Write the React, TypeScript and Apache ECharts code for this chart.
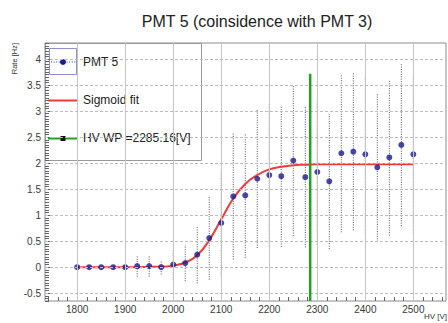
import React, { useEffect, useRef } from "react";
import * as echarts from "echarts";

// High-voltage scan points [V]
const hv = [
  1800, 1825, 1850, 1875, 1900, 1925, 1950, 1975, 2000, 2025, 2050, 2075, 2100, 2125, 2150,
  2175, 2200, 2225, 2250, 2275, 2300, 2325, 2350, 2375, 2400, 2425, 2450, 2475, 2500,
];
// Coincidence rate [Hz]
const rate = [
  0, 0, 0, 0, 0, 0.02, 0.02, 0.0, 0.05, 0.08, 0.24, 0.56, 0.85, 1.36, 1.38,
  1.7, 1.77, 1.75, 2.05, 1.73, 1.83, 1.65, 2.19, 2.22, 2.17, 1.92, 2.11, 2.35, 2.17,
];
// Symmetric rate uncertainty [Hz]
const rateErr = [
  0, 0, 0, 0, 0, 0.2, 0.2, 0.14, 0.3, 0.35, 0.55, 0.8, 1.0, 1.21, 1.2,
  1.33, 1.37, 1.36, 1.45, 1.35, 1.39, 1.3, 1.52, 1.51, 1.52, 1.43, 1.5, 1.56, 1.52,
];
// Sigmoid fit evaluated at the scan points
const fitRate = [
  0, 0, 0, 0, 0, 0, 0.01, 0.01, 0.03, 0.09, 0.23, 0.52, 0.92, 1.32, 1.6,
  1.77, 1.88, 1.93, 1.96, 1.97, 1.98, 1.98, 1.98, 1.98, 1.98, 1.98, 1.98, 1.98, 1.98,
];

const hvWorkingPoint = 2285.16;
const wpLineTop = 3.72;

const xMajorTicks = [1800, 1900, 2000, 2100, 2200, 2300, 2400, 2500];
const yMajorTicks = [-0.5, 0, 0.5, 1, 1.5, 2, 2.5, 3, 3.5, 4];
const xMin = 1733;
const xMax = 2568;
const yMin = -0.65;
const yMax = 4.31;
const xMinorStep = 20;
const yMinorStep = 0.05;

const FONT = "'Liberation Sans', Arial, Helvetica, sans-serif";

function minorTicks(lo: number, hi: number, step: number): number[] {
  const out: number[] = [];
  const start = Math.ceil(lo / step - 1e-9);
  const end = Math.floor(hi / step + 1e-9);
  for (let k = start; k <= end; k++) out.push(Math.round(k * step * 1000) / 1000);
  return out;
}

export default function App() {
  const ref = useRef<HTMLDivElement>(null);

  useEffect(() => {
    document.body.style.margin = "0";
    if (!ref.current) return;
    const chart = echarts.init(ref.current, undefined, { renderer: "svg" });

    const xMinor = minorTicks(xMin, xMax, xMinorStep);
    const yMinor = minorTicks(yMin, yMax, yMinorStep);

    const points = hv.map((h, i) => [h, rate[i]]);
    const bars = hv.map((h, i) => [h, rate[i] - rateErr[i], rate[i] + rateErr[i]]);
    const fit = hv.map((h, i) => [h, fitRate[i]]);

    const tickLine = { color: "#666", width: 1 };
    const plain = (v: number) => String(v);

    const option: any = {
      animation: false,
      grid: {
        left: 45,
        top: 43,
        right: 2,
        bottom: 22,
        show: true,
        borderColor: "#8c8c8c",
        borderWidth: 1,
        backgroundColor: "#fff",
      },
      xAxis: [
        {
          type: "value",
          min: xMin,
          max: xMax,
          position: "bottom",
          axisLine: { show: false, onZero: false },
          splitLine: { show: false },
          axisTick: { show: true, inside: true, length: 8, customValues: xMajorTicks, lineStyle: tickLine },
          axisLabel: {
            customValues: xMajorTicks,
            formatter: plain,
            color: "#3a3a3a",
            fontSize: 10,
            fontFamily: FONT,
            margin: 3,
          },
        },
        {
          type: "value",
          min: xMin,
          max: xMax,
          position: "bottom",
          axisLine: { show: false, onZero: false },
          splitLine: { show: false },
          axisLabel: { show: false },
          axisTick: { show: true, inside: true, length: 4, customValues: xMinor, lineStyle: tickLine },
        },
      ],
      yAxis: [
        {
          type: "value",
          min: yMin,
          max: yMax,
          position: "left",
          axisLine: { show: false, onZero: false },
          splitLine: { show: false },
          axisTick: { show: true, inside: true, length: 8, customValues: yMajorTicks, lineStyle: tickLine },
          axisLabel: {
            customValues: yMajorTicks,
            formatter: plain,
            color: "#3a3a3a",
            fontSize: 10,
            fontFamily: FONT,
            margin: 4,
          },
        },
        {
          type: "value",
          min: yMin,
          max: yMax,
          position: "left",
          axisLine: { show: false, onZero: false },
          splitLine: { show: false },
          axisLabel: { show: false },
          axisTick: { show: true, inside: true, length: 4, customValues: yMinor, lineStyle: tickLine },
        },
      ],
      series: [
        {
          // grid lines at the labelled ticks
          type: "line",
          data: [],
          z: 1,
          silent: true,
          markLine: {
            silent: true,
            symbol: "none",
            label: { show: false },
            animation: false,
            data: [
              ...xMajorTicks.map((v) => ({
                xAxis: v,
                lineStyle: { color: "#c4c4c4", width: 1, type: "solid" },
              })),
              ...yMajorTicks.map((v) => ({
                yAxis: v,
                lineStyle: { color: "#bdbdbd", width: 1, type: [3, 2] },
              })),
            ],
          },
        },
        {
          name: "errors",
          type: "custom",
          z: 2,
          silent: true,
          clip: true,
          data: bars,
          encode: { x: 0, y: [1, 2] },
          renderItem: (_params: any, api: any) => {
            const lo = api.value(1);
            const hi = api.value(2);
            if (hi - lo <= 0) return null;
            const p1 = api.coord([api.value(0), lo]);
            const p2 = api.coord([api.value(0), hi]);
            return {
              type: "line",
              shape: { x1: p1[0], y1: p1[1], x2: p2[0], y2: p2[1] },
              style: { stroke: "#50506a", lineWidth: 1, lineDash: [1, 1.4] },
            };
          },
        },
        {
          name: "Sigmoid fit",
          type: "line",
          z: 3,
          data: fit,
          smooth: 0.5,
          symbol: "none",
          lineStyle: { color: "#ee3b3b", width: 2 },
        },
        {
          name: "PMT 5",
          type: "scatter",
          z: 4,
          data: points,
          symbol: "circle",
          symbolSize: 6,
          itemStyle: { color: "#1b1b8c" },
        },
        {
          name: "HV WP",
          type: "line",
          z: 5,
          data: [
            [hvWorkingPoint, yMin],
            [hvWorkingPoint, wpLineTop],
          ],
          symbol: "none",
          lineStyle: { color: "#21a321", width: 2.5 },
        },
      ],
      graphic: [
        {
          type: "text",
          x: 257,
          y: 21,
          style: {
            text: "PMT 5 (coinsidence with PMT 3)",
            font: `16px ${FONT}`,
            fill: "#222",
            align: "center",
            verticalAlign: "middle",
          },
        },
        {
          type: "text",
          x: 14,
          y: 43,
          rotation: Math.PI / 2,
          style: {
            text: "Rate [Hz]",
            font: `7.5px ${FONT}`,
            fill: "#333",
            align: "right",
            verticalAlign: "middle",
          },
        },
        {
          type: "text",
          x: 447,
          y: 316,
          style: {
            text: "HV [V]",
            font: `8px ${FONT}`,
            fill: "#333",
            align: "right",
            verticalAlign: "middle",
          },
        },
        {
          type: "group",
          z: 100,
          children: [
            {
              type: "rect",
              shape: { x: 45.5, y: 43.5, width: 156, height: 117 },
              style: { fill: "#fff", stroke: "#9a9a9a", lineWidth: 1 },
            },
            {
              type: "rect",
              shape: { x: 49.5, y: 48.5, width: 27, height: 26 },
              style: { fill: "none", stroke: "#8f8fd6", lineWidth: 1 },
            },
            {
              type: "line",
              shape: { x1: 51, y1: 62, x2: 76, y2: 62 },
              style: { stroke: "#3a3aa0", lineWidth: 1, lineDash: [1, 1.6] },
            },
            {
              type: "circle",
              shape: { cx: 63, cy: 62, r: 3 },
              style: { fill: "#1b1b8c" },
            },
            {
              type: "text",
              x: 83,
              y: 62,
              style: { text: "PMT 5", font: `12px ${FONT}`, fill: "#222", verticalAlign: "middle" },
            },
            {
              type: "line",
              shape: { x1: 48, y1: 100.5, x2: 78, y2: 100.5 },
              style: { stroke: "#ee3b3b", lineWidth: 2 },
            },
            {
              type: "text",
              x: 83,
              y: 100,
              style: { text: "Sigmoid fit", font: `12px ${FONT}`, fill: "#222", verticalAlign: "middle" },
            },
            {
              type: "line",
              shape: { x1: 48, y1: 138.5, x2: 78, y2: 138.5 },
              style: { stroke: "#21a321", lineWidth: 2 },
            },
            {
              type: "rect",
              shape: { x: 60.5, y: 136, width: 5, height: 5 },
              style: { fill: "#111" },
            },
            {
              type: "text",
              x: 83,
              y: 138,
              style: {
                text: "HV WP =2285.16[V]",
                font: `12px ${FONT}`,
                fill: "#222",
                verticalAlign: "middle",
              },
            },
          ],
        },
      ],
    };

    chart.setOption(option);
    return () => chart.dispose();
  }, []);

  return <div ref={ref} style={{ width: 448, height: 323 }} />;
}
